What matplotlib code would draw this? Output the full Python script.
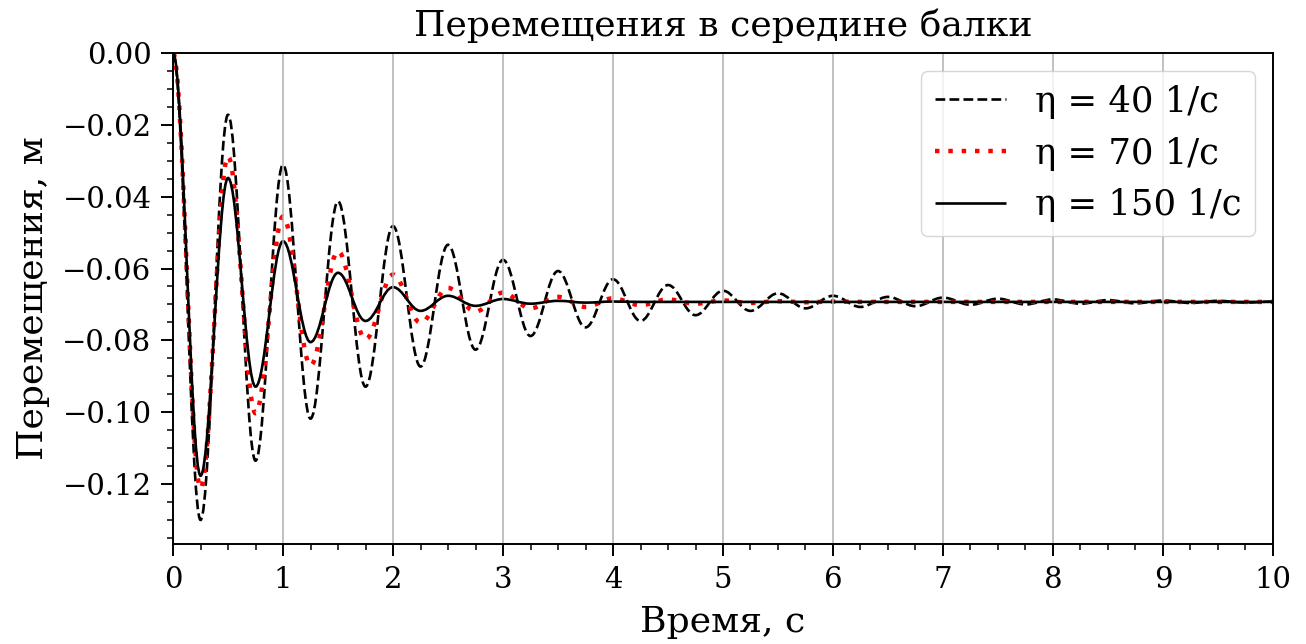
import matplotlib
matplotlib.use('Agg')
import matplotlib.pyplot as plt
from matplotlib.path import Path
from matplotlib.patches import PathPatch
from matplotlib.lines import Line2D
from matplotlib.ticker import MultipleLocator

plt.rcParams['font.family'] = 'DejaVu Serif'

# times of the extrema (s)
t_ext = [0.0, 0.25, 0.5, 0.75, 1.0, 1.25, 1.5, 1.75, 2.0, 2.25, 2.5, 2.75,
         3.0, 3.25, 3.5, 3.75, 4.0, 4.25, 4.5, 4.75, 5.0, 5.25, 5.5, 5.75,
         6.0, 6.25, 6.5, 6.75, 7.0, 7.25, 7.5, 7.75, 8.0, 8.25, 8.5, 8.75,
         9.0, 9.25, 9.5, 9.75, 10.0]

# displacement at the extrema (m)
u_40 = [0.0, -0.1300, -0.0172, -0.1135, -0.0311, -0.1018, -0.0413, -0.0929,
        -0.0482, -0.0873, -0.0534, -0.0826, -0.0576, -0.0788, -0.0607, -0.0764,
        -0.0630, -0.0746, -0.0646, -0.0730, -0.0662, -0.0718, -0.0669, -0.0711,
        -0.0676, -0.0707, -0.0679, -0.0705, -0.0681, -0.0701, -0.0684, -0.0700,
        -0.0686, -0.0698, -0.0688, -0.0697, -0.0689, -0.0696, -0.0690, -0.0695,
        -0.0692]
u_70 = [0.0, -0.1212, -0.0288, -0.1003, -0.0455, -0.0870, -0.0552, -0.0797,
        -0.0617, -0.0751, -0.0654, -0.0720, -0.0667, -0.0711, -0.0679, -0.0707,
        -0.0683, -0.0702, -0.0686, -0.0698, -0.0689, -0.0696, -0.0691, -0.0694,
        -0.0692, -0.0693, -0.0693, -0.0693, -0.0693, -0.0693, -0.0693, -0.0693,
        -0.0693, -0.0693, -0.0693, -0.0693, -0.0693, -0.0693, -0.0693, -0.0693,
        -0.0693]
u_150 = [0.0, -0.1177, -0.0348, -0.0929, -0.0524, -0.0805, -0.0612, -0.0746,
         -0.0652, -0.0718, -0.0676, -0.0704, -0.0685, -0.0698, -0.0690, -0.0695,
         -0.0692, -0.0693, -0.0693, -0.0693, -0.0693, -0.0693, -0.0693, -0.0693,
         -0.0693, -0.0693, -0.0693, -0.0693, -0.0693, -0.0693, -0.0693, -0.0693,
         -0.0693, -0.0693, -0.0693, -0.0693, -0.0693, -0.0693, -0.0693, -0.0693,
         -0.0693]

labels = ['η = 40 1/с', 'η = 70 1/с', 'η = 150 1/с']


def wave_path(t, u):
    # smooth curve through the extrema: cubic segments with flat tangents
    verts = [(t[0], u[0])]
    codes = [Path.MOVETO]
    for i in range(len(t) - 1):
        d = t[i + 1] - t[i]
        verts += [(t[i] + 0.363 * d, u[i]), (t[i + 1] - 0.363 * d, u[i + 1]),
                  (t[i + 1], u[i + 1])]
        codes += [Path.CURVE4] * 3
    return Path(verts, codes)


fig = plt.figure(figsize=(13.06, 6.44), dpi=100)
ax = fig.add_axes([0.1325, 0.1553, 0.8422, 0.7624])

styles = [dict(color='black', ls=(0, (3.7, 1.6)), lw=1.9),
          dict(color='red', ls=(0, (1, 2.0)), lw=3.2),
          dict(color='black', ls='-', lw=1.9)]
handles = []
for u, st, lab in zip([u_40, u_70, u_150], styles, labels):
    ax.add_patch(PathPatch(wave_path(t_ext, u), fill=False, edgecolor=st['color'],
                           linestyle=st['ls'], lw=st['lw'], capstyle='butt'))
    handles.append(Line2D([], [], color=st['color'], ls=st['ls'], lw=st['lw'],
                          solid_capstyle='butt', dash_capstyle='butt'))

ax.set_xlim(0, 10)
ax.set_ylim(-0.1367, 0)
ax.xaxis.set_major_locator(MultipleLocator(1))
ax.xaxis.set_minor_locator(MultipleLocator(0.25))
ax.yaxis.set_major_locator(MultipleLocator(0.02))
ax.yaxis.set_minor_locator(MultipleLocator(0.005))
ax.tick_params(which='major', length=8.5, width=1.4, pad=7, labelsize=21)
ax.tick_params(which='minor', length=4.3, width=1.1)
for s in ax.spines.values():
    s.set_linewidth(1.4)
ax.grid(True, axis='x', color='#b0b0b0', lw=1.1)

ax.set_title('Перемещения в середине балки', fontsize=26, pad=12)
ax.set_xlabel('Время, с', fontsize=26, labelpad=8)
ax.set_ylabel('Перемещения, м', fontsize=26, labelpad=9)
ax.legend(handles, labels, loc='upper right', fontsize=25.5, handlelength=2.0)

fig.savefig('out.png', dpi=100)
